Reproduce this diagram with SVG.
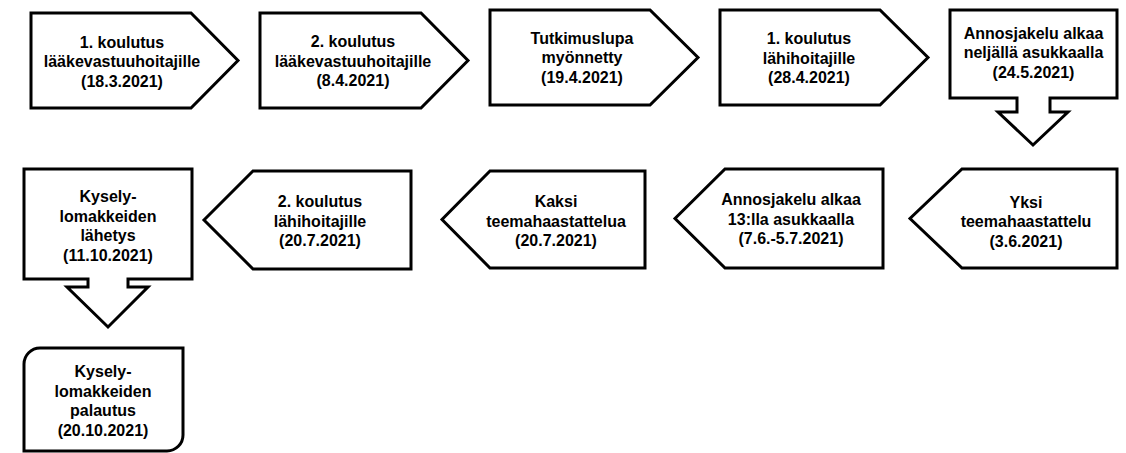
<svg xmlns="http://www.w3.org/2000/svg" width="1126" height="453" viewBox="0 0 1126 453">
<style>
.shape{fill:#fff;stroke:#000;stroke-width:3;stroke-linejoin:miter;stroke-miterlimit:10}
.t{font-family:"Liberation Sans",Arial,sans-serif;font-weight:bold;font-size:16px;fill:#000;text-anchor:middle}
</style>
<rect width="1126" height="453" fill="#fff"/>
<g id="n1"><polygon class="shape" points="31,13 191,13 238,60.5 191,108 31,108"/>
<text class="t"><tspan x="122" y="47.5">1. koulutus</tspan><tspan x="122" y="67">lääkevastuuhoitajille</tspan><tspan x="122" y="86.5">(18.3.2021)</tspan></text></g>
<g id="n2"><polygon class="shape" points="260,13 421,13 468,60.5 421,108 260,108"/>
<text class="t"><tspan x="353" y="47">2. koulutus</tspan><tspan x="353" y="66.5">lääkevastuuhoitajille</tspan><tspan x="353" y="86">(8.4.2021)</tspan></text></g>
<g id="n3"><polygon class="shape" points="490,10 650,10 698,57.5 650,105 490,105"/>
<text class="t"><tspan x="582" y="43.5">Tutkimuslupa</tspan><tspan x="582" y="63">myönnetty</tspan><tspan x="582" y="82.5">(19.4.2021)</tspan></text></g>
<g id="n4"><polygon class="shape" points="720,10 880,10 928,57.5 880,105 720,105"/>
<text class="t"><tspan x="809" y="44">1. koulutus</tspan><tspan x="809" y="63.5">lähihoitajille</tspan><tspan x="809" y="83">(28.4.2021)</tspan></text></g>
<g id="n5"><polygon class="shape" points="950,10 1117,10 1117,98 1050,98 1050,112 1068,112 1033,145 998,112 1017,112 1017,98 950,98"/>
<text class="t"><tspan x="1033.5" y="38.5">Annosjakelu alkaa</tspan><tspan x="1033.5" y="58">neljällä asukkaalla</tspan><tspan x="1033.5" y="77.5">(24.5.2021)</tspan></text></g>
<g id="n6"><polygon class="shape" points="1117,169 962,169 910,218.5 962,268 1117,268"/>
<text class="t"><tspan x="1026" y="207.5">Yksi</tspan><tspan x="1026" y="227">teemahaastattelu</tspan><tspan x="1026" y="246.5">(3.6.2021)</tspan></text></g>
<g id="n7"><polygon class="shape" points="883,169 725,169 675,218.5 725,268 883,268"/>
<text class="t"><tspan x="791" y="205">Annosjakelu alkaa</tspan><tspan x="791" y="224.5">13:lla asukkaalla</tspan><tspan x="791" y="244">(7.6.-5.7.2021)</tspan></text></g>
<g id="n8"><polygon class="shape" points="645,171 490,171 442,219.5 490,268 645,268"/>
<text class="t"><tspan x="556" y="207">Kaksi</tspan><tspan x="556" y="226.5">teemahaastattelua</tspan><tspan x="556" y="246">(20.7.2021)</tspan></text></g>
<g id="n9"><polygon class="shape" points="411,171 253,171 204,220 253,269 411,269"/>
<text class="t"><tspan x="320" y="207">2. koulutus</tspan><tspan x="320" y="226.5">lähihoitajille</tspan><tspan x="320" y="246">(20.7.2021)</tspan></text></g>
<g id="n10"><polygon class="shape" points="24,169 192,169 192,279 128,279 128,287 148,287 108,327 67,287 88,287 88,279 24,279"/>
<text class="t"><tspan x="108" y="202">Kysely-</tspan><tspan x="108" y="221.5">lomakkeiden</tspan><tspan x="108" y="241">lähetys</tspan><tspan x="108" y="260.5">(11.10.2021)</tspan></text></g>
<g id="n11"><path class="shape" d="M40,348 H183 V435 A16,16 0 0 1 167,451 H24 V364 A16,16 0 0 1 40,348 Z"/>
<text class="t"><tspan x="103" y="377">Kysely-</tspan><tspan x="103" y="396.5">lomakkeiden</tspan><tspan x="103" y="416">palautus</tspan><tspan x="103" y="435.5">(20.10.2021)</tspan></text></g>
<g id="connectors"></g>
</svg>
